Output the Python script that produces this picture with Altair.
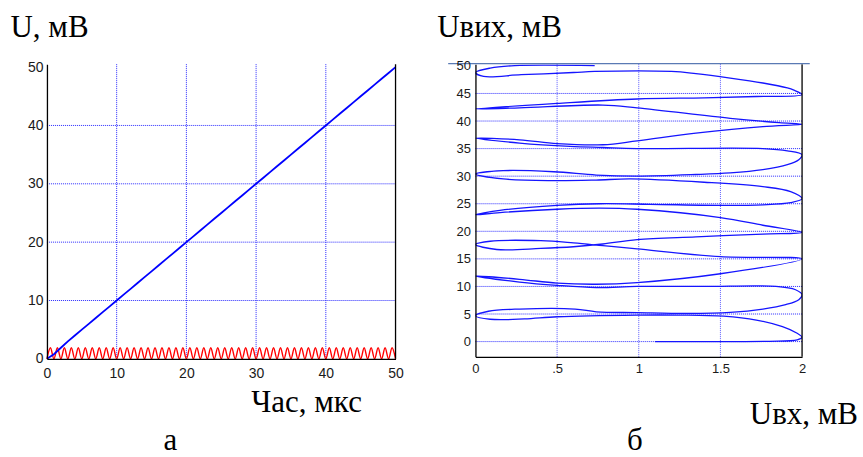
import altair as alt
import pandas as pd

# ---------- panel (а): signals against time ----------
ramp_t = [0, 1, 2, 3, 4, 5, 6, 7, 8, 9, 10, 11, 12, 13, 14, 15, 16, 17, 18, 19,
          20, 21, 22, 23, 24, 25, 26, 27, 28, 29, 30, 31, 32, 33, 34, 35, 36, 37,
          38, 39, 40, 41, 42, 43, 44, 45, 46, 47, 48, 49, 50]
ramp_u = [0.0, 0.8, 1.9, 3.0, 4.0, 5.0, 6.0, 7.0, 8.0, 9.0, 10.0, 11.0, 12.0,
          13.0, 14.0, 15.0, 16.0, 17.0, 18.0, 19.0, 20.0, 21.0, 22.0, 23.0, 24.0,
          25.0, 26.0, 27.0, 28.0, 29.0, 30.0, 31.0, 32.0, 33.0, 34.0, 35.0, 36.0,
          37.0, 38.0, 39.0, 40.0, 41.0, 42.0, 43.0, 44.0, 45.0, 46.0, 47.0, 48.0,
          49.0, 50.0]

pulse_t = [0, 0.5, 1, 1.5, 2, 2.5, 3, 3.5, 4, 4.5,
           5, 5.5, 6, 6.5, 7, 7.5, 8, 8.5, 9, 9.5,
           10, 10.5, 11, 11.5, 12, 12.5, 13, 13.5, 14, 14.5,
           15, 15.5, 16, 16.5, 17, 17.5, 18, 18.5, 19, 19.5,
           20, 20.5, 21, 21.5, 22, 22.5, 23, 23.5, 24, 24.5,
           25, 25.5, 26, 26.5, 27, 27.5, 28, 28.5, 29, 29.5,
           30, 30.5, 31, 31.5, 32, 32.5, 33, 33.5, 34, 34.5,
           35, 35.5, 36, 36.5, 37, 37.5, 38, 38.5, 39, 39.5,
           40, 40.5, 41, 41.5, 42, 42.5, 43, 43.5, 44, 44.5,
           45, 45.5, 46, 46.5, 47, 47.5, 48, 48.5, 49, 49.5,
           50]
pulse_u = [0.0, 1.9, 0.0, 1.9, 0.0, 1.9, 0.0, 1.9, 0.0, 1.9,
           0.0, 1.9, 0.0, 1.9, 0.0, 1.9, 0.0, 1.9, 0.0, 1.9,
           0.0, 1.9, 0.0, 1.9, 0.0, 1.9, 0.0, 1.9, 0.0, 1.9,
           0.0, 1.9, 0.0, 1.9, 0.0, 1.9, 0.0, 1.9, 0.0, 1.9,
           0.0, 1.9, 0.0, 1.9, 0.0, 1.9, 0.0, 1.9, 0.0, 1.9,
           0.0, 1.9, 0.0, 1.9, 0.0, 1.9, 0.0, 1.9, 0.0, 1.9,
           0.0, 1.9, 0.0, 1.9, 0.0, 1.9, 0.0, 1.9, 0.0, 1.9,
           0.0, 1.9, 0.0, 1.9, 0.0, 1.9, 0.0, 1.9, 0.0, 1.9,
           0.0, 1.9, 0.0, 1.9, 0.0, 1.9, 0.0, 1.9, 0.0, 1.9,
           0.0, 1.9, 0.0, 1.9, 0.0, 1.9, 0.0, 1.9, 0.0, 1.9,
           0.0]

time_ticks = [0, 10, 20, 30, 40, 50]
u_ticks = [0, 10, 20, 30, 40, 50]
time_grid = [10, 20, 30, 40]
u_grid = [10, 20, 30, 40]

# ---------- panel (б): output against input ----------
loop_x = [1.10, 1.50, 1.80, 1.97, 2.00, 1.97, 1.88, 1.72, 1.52, 1.25, 0.99, 0.50,
          0.30, 0.09, 0.00, 0.08, 0.27, 0.61, 0.74, 0.99, 1.30, 1.56, 1.76, 1.90,
          1.98, 2.00, 1.96, 1.84, 1.40, 0.99, 0.74, 0.50, 0.27, 0.00, 0.27, 0.50,
          0.74, 0.99, 1.50, 2.00, 1.50, 0.99, 0.78, 0.60, 0.40, 0.09, 0.00, 0.13,
          0.40, 0.60, 0.78, 0.99, 1.35, 1.76, 2.00, 1.76, 1.50, 0.99, 0.76, 0.50,
          0.15, 0.00, 0.15, 0.50, 0.76, 1.07, 1.52, 1.76, 1.93, 2.00, 1.93, 1.76,
          1.40, 0.95, 0.74, 0.48, 0.17, 0.00, 0.17, 0.48, 0.74, 0.99, 1.35, 1.56,
          1.76, 1.91, 1.98, 2.00, 1.91, 1.76, 0.99, 0.78, 0.58, 0.27, 0.00, 0.27,
          0.50, 0.78, 0.99, 1.35, 1.76, 2.00, 1.86, 1.56, 0.99, 0.78, 0.27, 0.00,
          0.50, 0.99, 1.40, 1.72, 2.00, 1.95, 1.91, 1.76, 1.56, 1.35, 1.20, 0.73,
          0.60, 0.28, 0.05, 0.00, 0.09, 0.24, 0.73]
loop_y = [0.0, 0.0, 0.05, 0.3, 0.8, 1.5, 2.7, 3.9, 4.6, 4.8, 4.8, 4.5,
          4.1, 4.05, 4.7, 5.5, 5.9, 5.9, 5.4, 5.25, 5.1, 5.3, 5.9, 6.7,
          7.6, 8.5, 9.4, 10.0, 10.0, 10.0, 9.8, 10.2, 10.8, 11.9, 11.3, 10.6,
          10.4, 10.7, 12.3, 15.0, 15.4, 16.8, 17.4, 17.9, 18.3, 18.2, 17.6, 16.7,
          16.9, 17.2, 17.7, 18.5, 19.0, 19.5, 19.8, 21.1, 22.5, 24.0, 24.2, 24.0,
          23.4, 23.0, 23.8, 24.7, 25.0, 24.9, 24.7, 24.8, 25.2, 25.9, 27.2, 28.1,
          28.9, 29.5, 29.3, 29.2, 29.5, 30.4, 31.0, 30.8, 30.2, 30.0, 30.3, 30.6,
          31.2, 32.1, 33.0, 33.9, 34.6, 35.0, 35.0, 35.2, 35.4, 36.0, 36.9, 36.6,
          35.9, 35.7, 36.4, 37.8, 39.0, 39.4, 39.7, 40.5, 42.4, 42.9, 42.4, 42.2,
          43.2, 44.0, 44.2, 44.45, 44.8, 45.6, 46.0, 46.9, 47.8, 48.6, 49.0, 49.0,
          48.8, 48.4, 48.1, 48.8, 49.6, 50.05, 50.05]

in_ticks = [0, 0.5, 1, 1.5, 2]
out_ticks = [0, 5, 10, 15, 20, 25, 30, 35, 40, 45, 50]
in_grid = [0.5, 1, 1.5]
out_grid = [0, 5, 10, 15, 20, 25, 30, 35, 40, 45]

# ---------- styling ----------
SANS = "Liberation Sans"
SERIF = "Liberation Serif"
GRID = "#2a2aff"

W1, H1 = 349, 295
W2, H2 = 327, 293

tx = alt.Scale(domain=[0, 50], nice=False, zero=False)
uy = alt.Scale(domain=[0, 50.5], nice=False, zero=False)
ix = alt.Scale(domain=[0, 2], nice=False, zero=False)
oy = alt.Scale(domain=[-2.77, 50.31], nice=False, zero=False)


def axis(values, pad, size, fmt_expr=None):
    kw = dict(values=values, title=None, grid=False, ticks=False, zindex=1,
              labelFont=SANS, labelFontSize=size, labelColor="#1a1a1a",
              labelPadding=pad, domainColor="black", domainWidth=1.3,
              labelFlush=False, labelOverlap=False)
    if fmt_expr:
        kw["labelExpr"] = fmt_expr
    return alt.Axis(**kw)


ax_t = axis(time_ticks, 8, 14)
ax_u = axis(u_ticks, 4, 14)
ax_in = axis(in_ticks, 6, 13,
             "datum.value == 0.5 ? '.5' : format(datum.value, '~g')")
ax_out = axis(out_ticks, 5, 13)


def label(txt, x, y, size=31, align="left"):
    return alt.Chart(pd.DataFrame({"txt": [txt]})).mark_text(
        font=SERIF, fontSize=size, align=align, baseline="alphabetic", color="black"
    ).encode(x=alt.value(x), y=alt.value(y), text="txt:N")


# white sheet that also fixes the page frame
sheet = alt.Chart(pd.DataFrame({"k": [0]})).mark_rect(fill="white").encode(
    x=alt.value(-46.5), x2=alt.value(816.5), y=alt.value(-64), y2=alt.value(393))

ramp_df = pd.DataFrame({"t": ramp_t, "u": ramp_u})
pulse_df = pd.DataFrame({"t": pulse_t, "u": pulse_u})

gx1 = alt.Chart(pd.DataFrame({"t": time_grid})).mark_rule(
    color=GRID, strokeDash=[1, 1], strokeWidth=1
).encode(x=alt.X("t:Q", scale=tx, axis=ax_t))
gy1 = alt.Chart(pd.DataFrame({"u": u_grid})).mark_rule(
    color=GRID, strokeDash=[1, 1], strokeWidth=1
).encode(y=alt.Y("u:Q", scale=uy, axis=ax_u))

pulse = alt.Chart(pulse_df).mark_line(
    color="#ff0000", strokeWidth=1.4, interpolate="monotone"
).encode(
    x=alt.X("t:Q", scale=tx, axis=ax_t),
    y=alt.Y("u:Q", scale=uy, axis=ax_u),
)
ramp = alt.Chart(ramp_df).mark_line(color="#0000ff", strokeWidth=1.8).encode(
    x=alt.X("t:Q", scale=tx, axis=ax_t),
    y=alt.Y("u:Q", scale=uy, axis=ax_u),
)
edge1 = alt.Chart(pd.DataFrame({"t": [50]})).mark_rule(color="black", strokeWidth=1.3).encode(
    x=alt.X("t:Q", scale=tx, axis=ax_t))

left = alt.layer(
    sheet, gx1, gy1, pulse, ramp, edge1,
    label("U, мВ", -36.5, -27),
    label("Час, мкс", 204.5, 348),
    label("а", 123.5, 386, align="center"),
).properties(width=W1, height=H1)

loop_df = pd.DataFrame({"i": list(range(len(loop_x))), "x": loop_x, "y": loop_y})

gx2 = alt.Chart(pd.DataFrame({"x": in_grid})).mark_rule(
    color="#5a5aff", strokeDash=[1, 1], strokeWidth=1
).encode(x=alt.X("x:Q", scale=ix, axis=ax_in))
gy2 = alt.Chart(pd.DataFrame({"y": out_grid})).mark_rule(
    color=GRID, strokeDash=[1, 1], strokeWidth=1
).encode(y=alt.Y("y:Q", scale=oy, axis=ax_out))

loop = alt.Chart(loop_df).mark_line(
    color="#1515ff", strokeWidth=1.3, clip=True, interpolate="catmull-rom"
).encode(
    x=alt.X("x:Q", scale=ix, axis=ax_in),
    y=alt.Y("y:Q", scale=oy, axis=ax_out),
    order="i:Q",
)
edge2 = alt.Chart(pd.DataFrame({"x": [2]})).mark_rule(color="black", strokeWidth=1.3).encode(
    x=alt.X("x:Q", scale=ix, axis=ax_in))
topline = alt.Chart(pd.DataFrame({"k": [0]})).mark_rule(
    color="#5a7ab4", strokeWidth=1.3
).encode(x=alt.value(-27.3), x2=alt.value(334.7), y=alt.value(-0.5))

right = alt.layer(
    gx2, gy2, loop, edge2, topline,
    label("Uвих, мВ", -38.3, -27),
    label("Uвх, мВ", 274.7, 360),
    label("б", 159.7, 386, align="center"),
).properties(width=W2, height=H2)

chart = alt.hconcat(left, right, spacing=80, bounds="flush").configure_view(
    stroke=None
).properties(padding=0, background="white")

chart.save("out.html", embed_options={"renderer": "svg", "actions": False})
